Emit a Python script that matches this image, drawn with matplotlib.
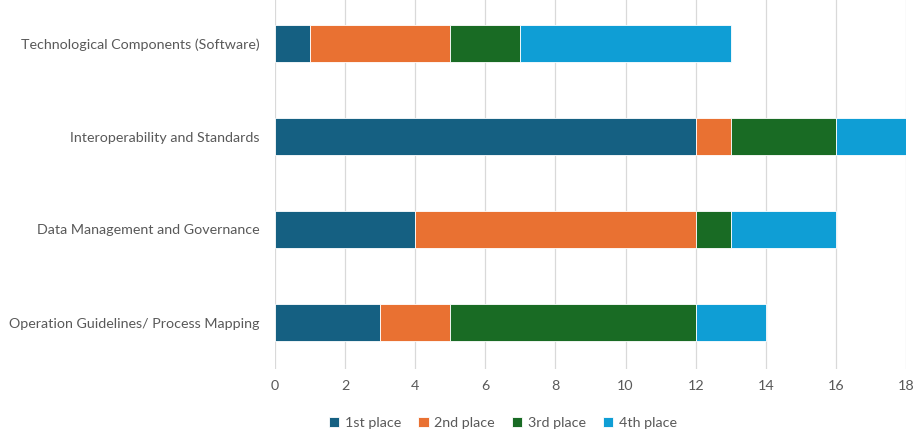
import matplotlib
matplotlib.use("Agg")
import matplotlib.pyplot as plt
import numpy as np

categories = [
    "Operation Guidelines/ Process Mapping",
    "Data Management and Governance",
    "Interoperability and Standards",
    "Technological Components (Software)",
]
series_names = ["1st place", "2nd place", "3rd place", "4th place"]
first_place = [3, 4, 12, 1]
second_place = [2, 8, 1, 4]
third_place = [7, 1, 3, 2]
fourth_place = [2, 3, 2, 6]
colors = ["#156082", "#E97132", "#196B24", "#0F9ED5"]
x_ticks = [0, 2, 4, 6, 8, 10, 12, 14, 16, 18]

plt.rcParams["font.family"] = ["Lato", "DejaVu Sans"]
text_color = "#595959"

fig = plt.figure(figsize=(9.19, 4.37), dpi=100)
ax = fig.add_axes([275 / 919, 68 / 437, 631 / 919, 372 / 437])

y = np.arange(len(categories))
left = np.zeros(len(categories))
for name, vals, c in zip(series_names,
                         [first_place, second_place, third_place, fourth_place],
                         colors):
    ax.barh(y, vals, left=left, height=0.4, color=c, label=name,
            edgecolor="white", linewidth=0.6, zorder=3)
    left += np.array(vals)

ax.set_xlim(0, 18)
ax.set_ylim(-0.5, len(categories) - 0.5)
ax.set_xticks(x_ticks)
ax.set_yticks(y)
ax.set_yticklabels(categories)
ax.grid(axis="x", color="#d9d9d9", linewidth=0.9, zorder=0)
for s in ax.spines.values():
    s.set_visible(False)
ax.tick_params(axis="both", length=0, colors=text_color, labelsize=10.3)
ax.tick_params(axis="x", pad=8)
ax.tick_params(axis="y", pad=11)

leg = fig.legend(loc="center", bbox_to_anchor=(503 / 919, 1 - 423 / 437),
                 ncol=4, frameon=False, fontsize=10.3, handlelength=0.7,
                 handleheight=0.7, handletextpad=0.4, columnspacing=1.2)
for t in leg.get_texts():
    t.set_color(text_color)

fig.savefig("out.png", dpi=100)
